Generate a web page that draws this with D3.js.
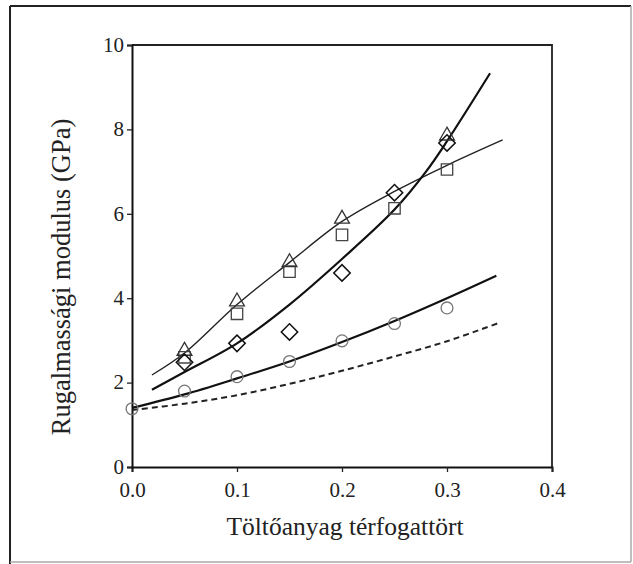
<!DOCTYPE html>
<html>
<head>
<meta charset="utf-8">
<script src="https://cdn.jsdelivr.net/npm/d3@7"></script>
<style>
  html, body { margin: 0; padding: 0; background: #fff; }
  svg { display: block; }
</style>
</head>
<body>
<svg id="chart" width="633" height="564"></svg>
<script>
// Volume fraction of filler (x) and elastic modulus in GPa (y)
const xTicks = [0.0, 0.1, 0.2, 0.3, 0.4];
const yTicks = [0, 2, 4, 6, 8, 10];

// Measured points
const triangleX = [0.05, 0.1, 0.15, 0.2, 0.3];
const triangleY = [2.75, 3.92, 4.85, 5.88, 7.85];
const squareX = [0.05, 0.1, 0.15, 0.2, 0.25, 0.3];
const squareY = [2.6, 3.63, 4.63, 5.5, 6.13, 7.05];
const diamondX = [0.05, 0.1, 0.15, 0.2, 0.25, 0.3];
const diamondY = [2.48, 2.93, 3.2, 4.6, 6.5, 7.68];
const circleX = [0.0, 0.05, 0.1, 0.15, 0.2, 0.25, 0.3];
const circleY = [1.38, 1.8, 2.14, 2.5, 2.99, 3.4, 3.77];

// Model curves
const thinFitX = [0.019, 0.05, 0.1, 0.15, 0.2, 0.25, 0.3, 0.353];
const thinFitY = [2.18, 2.7, 3.85, 4.85, 5.82, 6.53, 7.15, 7.75];
const steepFitX = [0.019, 0.05, 0.1, 0.15, 0.2, 0.25, 0.28, 0.3, 0.341];
const steepFitY = [1.83, 2.25, 2.93, 3.85, 4.93, 6.1, 7.0, 7.72, 9.33];
const lowFitX = [0.0, 0.05, 0.1, 0.15, 0.2, 0.25, 0.3, 0.347];
const lowFitY = [1.4, 1.72, 2.1, 2.5, 2.96, 3.46, 4.0, 4.53];
const dashFitX = [0.0, 0.05, 0.1, 0.15, 0.2, 0.25, 0.3, 0.35];
const dashFitY = [1.35, 1.5, 1.7, 1.97, 2.28, 2.62, 2.98, 3.42];

const FONT = "'Liberation Serif', 'Times New Roman', serif";
const svg = d3.select("#chart").attr("font-family", FONT);

// Outer frame
svg.append("line").attr("x1", 10).attr("y1", 6).attr("x2", 631).attr("y2", 6)
  .attr("stroke", "#222").attr("stroke-width", 2);
svg.append("line").attr("x1", 10).attr("y1", 6).attr("x2", 10).attr("y2", 564)
  .attr("stroke", "#222").attr("stroke-width", 2);
svg.append("line").attr("x1", 631).attr("y1", 6).attr("x2", 631).attr("y2", 562)
  .attr("stroke", "#aaa").attr("stroke-width", 1.5);
svg.append("line").attr("x1", 10).attr("y1", 562).attr("x2", 631).attr("y2", 562)
  .attr("stroke", "#aaa").attr("stroke-width", 1.5);

const x = d3.scaleLinear().domain([0, 0.4]).range([132, 552]);
const y = d3.scaleLinear().domain([0, 10]).range([467, 45]);

// Plot box (top and right edges)
svg.append("path")
  .attr("d", `M${x(0)},${y(10)}H${x(0.4)}V${y(0)}`)
  .attr("fill", "none").attr("stroke", "#222").attr("stroke-width", 1.8);

// Axes
const xAxis = d3.axisBottom(x).tickValues(xTicks).tickFormat(d3.format(".1f")).tickSize(5).tickPadding(3);
const gx = svg.append("g").attr("transform", `translate(0,${y(0)})`).call(xAxis);
const yAxis = d3.axisLeft(y).tickValues(yTicks).tickFormat(d3.format("d")).tickSize(5).tickPadding(3);
const gy = svg.append("g").attr("transform", `translate(${x(0)},0)`).call(yAxis);
[gx, gy].forEach(g => {
  g.attr("font-family", FONT).attr("font-size", 21);
  g.select(".domain").attr("stroke", "#111").attr("stroke-width", 2);
  g.selectAll(".tick line").attr("stroke", "#222").attr("stroke-width", 1.3);
  g.selectAll(".tick text").attr("fill", "#222");
});
gx.selectAll(".tick text").attr("dy", "1.03em");
gy.selectAll(".tick text").attr("dy", "0.3em");

// Axis titles
svg.append("text")
  .attr("x", 345).attr("y", 535)
  .attr("text-anchor", "middle")
  .attr("font-size", 25.5).attr("fill", "#222")
  .text("Töltőanyag térfogattört");
svg.append("text")
  .attr("transform", "translate(70,277) rotate(-90)")
  .attr("text-anchor", "middle")
  .attr("font-size", 26.5).attr("fill", "#222")
  .text("Rugalmassági modulus (GPa)");

// Curves
const line = d3.line().x(d => x(d[0])).y(d => y(d[1])).curve(d3.curveCatmullRom.alpha(0.5));
const zip = (xs, ys) => xs.map((v, i) => [v, ys[i]]);

svg.append("path").datum(zip(thinFitX, thinFitY)).attr("d", line)
  .attr("fill", "none").attr("stroke", "#222").attr("stroke-width", 1.4);
svg.append("path").datum(zip(steepFitX, steepFitY)).attr("d", line)
  .attr("fill", "none").attr("stroke", "#111").attr("stroke-width", 2.2);
svg.append("path").datum(zip(lowFitX, lowFitY)).attr("d", line)
  .attr("fill", "none").attr("stroke", "#111").attr("stroke-width", 2.2);
svg.append("path").datum(zip(dashFitX, dashFitY)).attr("d", line)
  .attr("fill", "none").attr("stroke", "#222").attr("stroke-width", 2)
  .attr("stroke-dasharray", "6,4");

// Markers
const sym = (type, size) => d3.symbol().type(type).size(size)();
const marker = (xs, ys, path, color, sw, transform) => {
  svg.append("g").selectAll("path").data(zip(xs, ys)).join("path")
    .attr("transform", d => `translate(${x(d[0])},${y(d[1])})${transform || ""}`)
    .attr("d", path)
    .attr("fill", "none").attr("stroke", color).attr("stroke-width", sw);
};
marker(circleX, circleY, sym(d3.symbolCircle, 110), "#777", 1.3);
marker(squareX, squareY, sym(d3.symbolSquare, 130), "#444", 1.3);
marker(triangleX, triangleY, sym(d3.symbolTriangle, 95), "#333", 1.3);
marker(diamondX, diamondY, sym(d3.symbolSquare, 135), "#111", 1.5, " rotate(45)");
</script>
</body>
</html>
